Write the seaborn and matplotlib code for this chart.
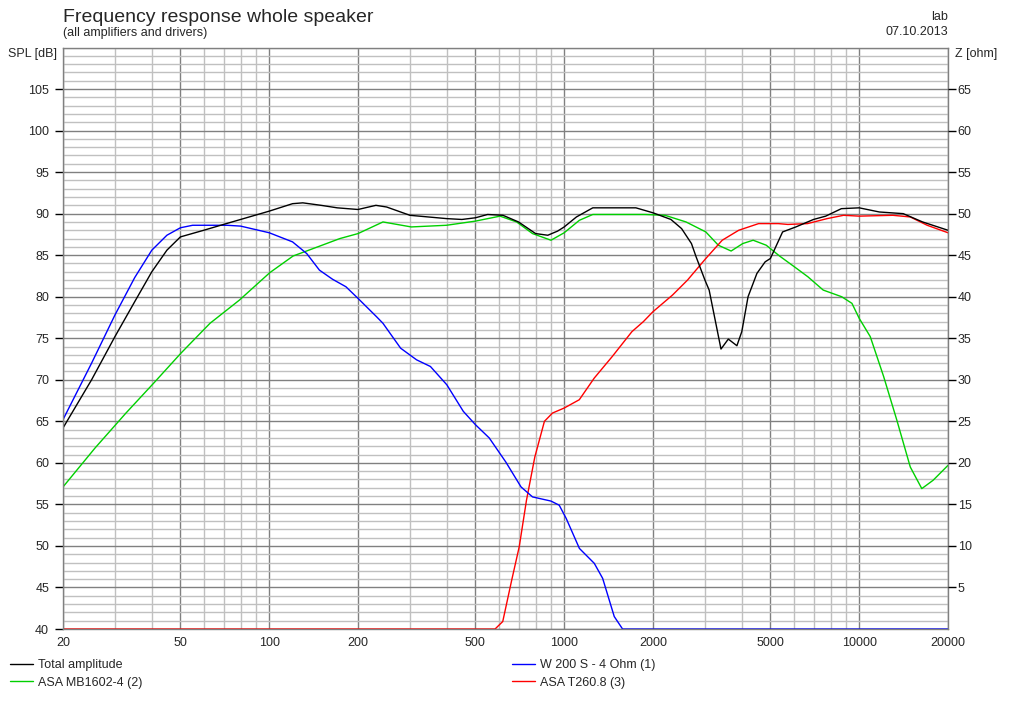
import matplotlib
matplotlib.use("Agg")
import matplotlib.pyplot as plt
import matplotlib.ticker as mticker
from matplotlib.lines import Line2D
import seaborn as sns

# values (frequency in Hz, level in dB)
total_f = [20, 25, 30, 35, 40, 45, 50, 60, 70, 80, 100, 120, 130, 150, 170, 200, 230, 250, 300,
           400, 450, 500, 550, 620, 700, 800, 880, 950, 1000, 1100, 1250, 1500, 1750, 2000,
           2300, 2500, 2700, 2800, 3000, 3100, 3300, 3400, 3600, 3850, 4000, 4200, 4500,
           4800, 5000, 5500, 6100, 7000, 7700, 8700, 10000, 11700, 14100, 16400, 20000]
total_db = [64.2, 70.0, 75.2, 79.4, 83.0, 85.6, 87.2, 88.0, 88.7, 89.3, 90.3, 91.2, 91.3, 91.0,
            90.7, 90.5, 91.0, 90.8, 89.8, 89.4, 89.3, 89.5, 89.9, 89.8, 89.0, 87.6, 87.4,
            87.9, 88.4, 89.6, 90.7, 90.7, 90.7, 90.1, 89.3, 88.2, 86.4, 84.8, 82.0, 80.8,
            76.0, 73.7, 74.9, 74.1, 75.8, 80.0, 82.8, 84.2, 84.6, 87.8, 88.4, 89.3, 89.7,
            90.6, 90.7, 90.2, 90.0, 89.0, 88.0]

woofer_f = [20, 25, 30, 35, 40, 45, 50, 55, 72, 80, 100, 120, 134, 148, 164, 182, 200,
            231, 243, 279, 316, 352, 400, 455, 500, 557, 634, 714, 781, 902, 962, 1016,
            1126, 1265, 1350, 1478, 1577, 20000]
woofer_db = [65.2, 72.0, 77.8, 82.3, 85.6, 87.4, 88.3, 88.6, 88.6, 88.5, 87.7, 86.6, 85.2, 83.2,
             82.1, 81.2, 79.8, 77.6, 76.8, 73.8, 72.4, 71.6, 69.4, 66.2, 64.6, 63.0, 60.1,
             57.1, 55.9, 55.4, 54.9, 53.3, 49.7, 47.9, 46.1, 41.5, 40.0, 40.0]

mid_f = [20, 25.7, 32.7, 40.6, 50.2, 63, 79.3, 100.5, 120.5, 141, 173.6, 200, 243, 303,
         399, 500, 606, 690, 781, 902, 1000, 1126, 1250, 1880, 2196, 2588, 3020, 3330,
         3680, 4030, 4370, 4840, 5370, 6030, 6700, 7550, 8720, 9450, 10000, 10900, 12100,
         13400, 14900, 16300, 17800, 20000]
mid_db = [57.1, 61.8, 66.0, 69.6, 73.2, 76.8, 79.6, 82.9, 84.9, 85.8, 87.0, 87.6, 89.0,
          88.4, 88.6, 89.1, 89.7, 89.0, 87.6, 86.8, 87.7, 89.2, 89.9, 89.9, 89.8, 89.0,
          87.8, 86.2, 85.5, 86.4, 86.8, 86.2, 84.9, 83.6, 82.4, 80.8, 80.0, 79.2, 77.4,
          75.2, 70.4, 65.2, 59.5, 56.9, 57.9, 59.7]

tweeter_f = [20, 583, 619, 664, 704, 745, 795, 857, 913, 1000, 1125, 1264, 1455, 1697, 1855,
             2000, 2329, 2618, 3020, 3433, 3905, 4560, 5320, 5730, 6680, 7780, 8850, 10000,
             13000, 14900, 17000, 20000]
tweeter_db = [40.0, 40.0, 40.9, 45.9, 49.9, 55.5, 60.7, 65.0, 66.0, 66.6, 67.6, 70.2, 72.8,
              75.8, 77.0, 78.2, 80.2, 82.0, 84.6, 86.8, 88.0, 88.8, 88.8, 88.7, 88.8, 89.4,
              89.8, 89.7, 89.8, 89.6, 88.6, 87.7]

names = ["Total amplitude", "W 200 S - 4 Ohm (1)", "ASA MB1602-4 (2)", "ASA T260.8 (3)"]
colors = ["#000000", "#0000ff", "#00d000", "#ff0000"]

sns.set_style("white")
plt.rcParams["font.family"] = ["Liberation Sans", "DejaVu Sans"]

fig = plt.figure(figsize=(10.09, 7.01), dpi=100)
ax = fig.add_axes([63 / 1009, 72 / 701, 885 / 1009, 581.5 / 701])

sns.lineplot(x=mid_f, y=mid_db, color=colors[2], lw=1, ax=ax)
sns.lineplot(x=tweeter_f, y=tweeter_db, color=colors[3], lw=1, ax=ax)
sns.lineplot(x=woofer_f, y=woofer_db, color=colors[1], lw=1, ax=ax)
sns.lineplot(x=total_f, y=total_db, color=colors[0], lw=1, ax=ax)

ax.set_xscale("log")
ax.set_xlim(20, 20000)
ax.set_ylim(40, 110)

major_x = [20, 50, 100, 200, 500, 1000, 2000, 5000, 10000, 20000]
minor_x = [m * d for d in [10, 100, 1000] for m in range(2, 10)] + [10000 * m for m in range(2, 10)]
minor_x = [v for v in minor_x if 20 <= v <= 20000 and v not in major_x]
ax.xaxis.set_major_locator(mticker.FixedLocator(major_x))
ax.xaxis.set_major_formatter(mticker.FixedFormatter([str(v) for v in major_x]))
ax.xaxis.set_minor_locator(mticker.FixedLocator(minor_x))
ax.xaxis.set_minor_formatter(mticker.NullFormatter())

ax.yaxis.set_major_locator(mticker.FixedLocator(list(range(40, 110, 5))))
ax.yaxis.set_minor_locator(mticker.MultipleLocator(1))

ax.grid(which="minor", color="#c0c0c0", lw=1)
ax.grid(which="major", color="#808080", lw=1)
ax.set_axisbelow(True)
for s in ax.spines.values():
    s.set_color("#808080")
    s.set_linewidth(1)

ax.tick_params(axis="x", which="both", length=0, pad=6, labelsize=9)
ax.tick_params(axis="y", which="major", length=6, width=1, color="black", labelsize=9, pad=4, left=True)
ax.tick_params(axis="y", which="minor", length=0)
ax.set_xlabel("")
ax.set_ylabel("")

ax2 = ax.twinx()
ax2.set_ylim(0, 70)
ax2.yaxis.set_major_locator(mticker.FixedLocator(list(range(5, 70, 5))))
ax2.tick_params(axis="y", length=6, width=1, color="black", labelsize=9, pad=1, right=True)
for s in ax2.spines.values():
    s.set_visible(False)

fig.text(8 / 1009, 1 - 54 / 701, "SPL [dB]", fontsize=9, va="center", ha="left")
fig.text(955 / 1009, 1 - 54 / 701, "Z [ohm]", fontsize=9, va="center", ha="left")

fig.text(63 / 1009, 1 - 17 / 701, "Frequency response whole speaker", fontsize=14, va="center", ha="left")
fig.text(63 / 1009, 1 - 33 / 701, "(all amplifiers and drivers)", fontsize=9, va="center", ha="left")
fig.text(948 / 1009, 1 - 17 / 701, "lab", fontsize=9, va="center", ha="right")
fig.text(948 / 1009, 1 - 32 / 701, "07.10.2013", fontsize=9, va="center", ha="right")

h = [Line2D([], [], color=c, lw=1) for c in colors]
leg_kw = dict(frameon=False, fontsize=9, handlelength=1.8, handletextpad=0.4,
              labelspacing=0.45, borderaxespad=0, borderpad=0, loc="upper left")
fig.legend([h[0], h[2]], [names[0], names[2]], bbox_to_anchor=(10 / 1009, 1 - 659 / 701), **leg_kw)
fig.legend([h[1], h[3]], [names[1], names[3]], bbox_to_anchor=(512 / 1009, 1 - 659 / 701), **leg_kw)

fig.savefig("out.png", dpi=100, facecolor="white")
